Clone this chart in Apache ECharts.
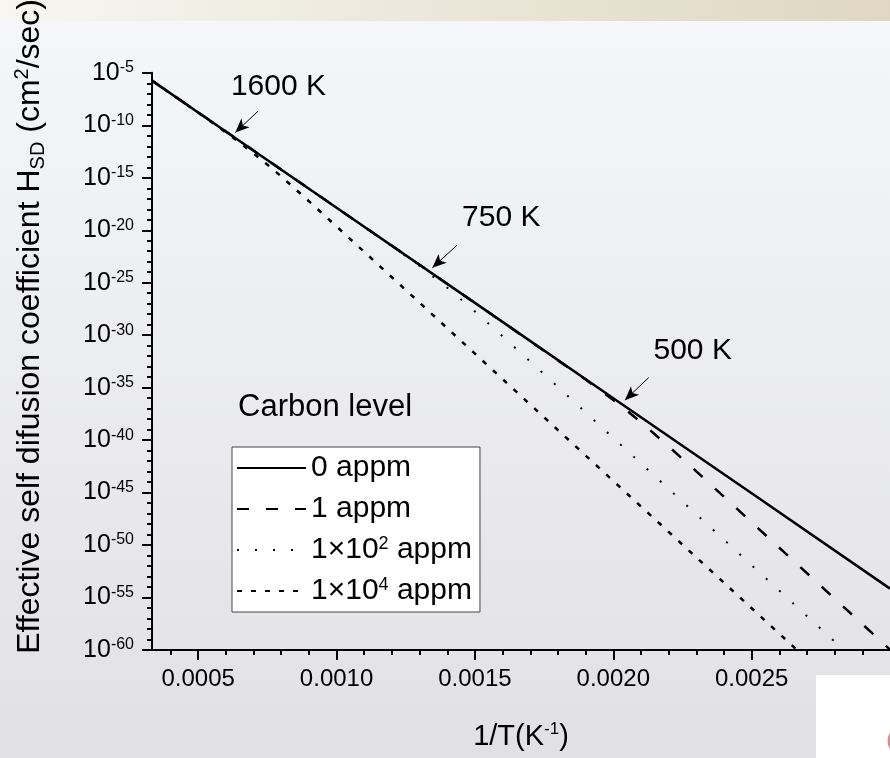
<!DOCTYPE html>
<html>
<head>
<meta charset="utf-8">
<script src="https://cdn.jsdelivr.net/npm/echarts@6/dist/echarts.min.js"></script>
<style>
  html, body { margin: 0; padding: 0; }
  #chart { width: 890px; height: 758px; }
</style>
</head>
<body>
<div id="chart"></div>
<script>
// x = 1/T (1/K), y = log10 of H_SD (cm2/sec)
var names = ['0 appm', '1 appm', '1x10^2 appm', '1x10^4 appm']

var x0 = [0.000333, 0.0005, 0.001, 0.0015, 0.002, 0.0025, 0.003]
var y0 = [-5.74, -8.77, -17.85, -26.92, -36.00, -45.07, -54.15]

var x1 = [0.000333, 0.0005, 0.001, 0.0015, 0.0019, 0.0020, 0.00205, 0.0021, 0.0022, 0.0023, 0.0024, 0.0025, 0.0028, 0.003]
var y1 = [-5.74, -8.77, -17.85, -26.92, -34.23, -36.17, -37.21, -38.29, -40.60, -42.97, -45.40, -47.83, -55.11, -59.96]

var x2 = [0.000333, 0.0005, 0.001, 0.0012, 0.0013, 0.0014, 0.0015, 0.0016, 0.0017, 0.0018, 0.0020, 0.0025, 0.002833]
var y2 = [-5.74, -8.77, -17.85, -21.51, -23.41, -25.48, -27.73, -30.10, -32.51, -34.93, -39.79, -51.92, -60]

var x3 = [0.000333, 0.0005, 0.0006, 0.00065, 0.0007, 0.00075, 0.0008, 0.0009, 0.001, 0.0012, 0.0015, 0.002, 0.0025, 0.002664]
var y3 = [-5.74, -8.79, -10.67, -11.65, -12.67, -13.75, -14.87, -17.23, -19.64, -24.48, -31.76, -43.89, -56.02, -60]

var xTicks = [0.0005, 0.0010, 0.0015, 0.0020, 0.0025]

// temperature notes: text spot, arrow tail, arrow tip (data coords)
var noteText = ['1600 K', '750 K', '500 K']
var noteAt = [[0.00079, -6.29], [0.001595, -18.80], [0.002287, -31.44]]
var arrowFrom = [[0.000716, -8.66], [0.001435, -21.43], [0.002128, -34.04]]
var arrowTo = [[0.000634, -10.69], [0.001346, -23.58], [0.002042, -36.19]]

var legendText = {
  '0 appm': '0 appm',
  '1 appm': '1 appm',
  '1x10^2 appm': '1\u00d710{s|2} appm',
  '1x10^4 appm': '1\u00d710{s|4} appm'
}

function pairs(xs, ys) {
  return xs.map(function (x, i) { return [x, ys[i]] })
}

var font = 'Arial, "Liberation Sans", sans-serif'
var chart = echarts.init(document.getElementById('chart'))

var styles = [
  { width: 2.5, type: 'solid' },
  { width: 2.5, type: [12, 17] },
  { width: 2, type: [2, 16] },
  { width: 2.5, type: [5, 9] }
]
var xs = [x0, x1, x2, x3], ys = [y0, y1, y2, y3]

var series = names.map(function (n, i) {
  return {
    name: n,
    type: 'line',
    symbol: 'none',
    data: pairs(xs[i], ys[i]),
    lineStyle: { color: '#000', width: styles[i].width, type: styles[i].type, cap: 'butt' },
    itemStyle: { color: '#000' },
    z: 5 - i
  }
})

series[0].markLine = {
  silent: true,
  symbol: ['none', 'arrow'],
  symbolSize: [9, 14],
  label: { show: false },
  lineStyle: { color: '#000', width: 1, type: 'solid' },
  data: noteText.map(function (t, i) {
    return [{ coord: arrowFrom[i] }, { coord: arrowTo[i] }]
  })
}
series[0].markPoint = {
  silent: true,
  symbol: 'circle',
  symbolSize: 0,
  label: {
    show: true, position: 'inside', color: '#000', fontSize: 30, fontFamily: font,
    formatter: function (p) { return p.name }
  },
  data: noteText.map(function (t, i) { return { name: t, coord: noteAt[i] } })
}

var option = {
  backgroundColor: {
    type: 'linear', x: 0, y: 0, x2: 0, y2: 1,
    colorStops: [{ offset: 0, color: '#f6f7fa' }, { offset: 1, color: '#e1e1e4' }]
  },
  animation: false,
  graphic: [
    {
      type: 'rect', z: -1, shape: { x: 0, y: 0, width: 890, height: 21 },
      style: {
        fill: {
          type: 'linear', x: 0, y: 0, x2: 1, y2: 0,
          colorStops: [{ offset: 0, color: '#f7f6f1' }, { offset: 1, color: '#dfd7c1' }]
        }
      }
    },
    { type: 'rect', z: -1, shape: { x: 816, y: 675, width: 74, height: 83 }, style: { fill: '#fff' } },
    {
      type: 'arc', z: -1, shape: { cx: 903, cy: 741, r: 14, startAngle: 2.4, endAngle: 3.9 },
      style: { stroke: '#b5424a', lineWidth: 3, fill: 'none', opacity: 0.6 }
    }
  ],
  title: {
    text: 'Carbon level', left: 238, top: 392, padding: 0,
    textStyle: { fontSize: 31, fontWeight: 'normal', color: '#000', fontFamily: font }
  },
  legend: {
    orient: 'vertical', left: 232, top: 447,
    padding: [6, 8, 6, 4], itemGap: 11, itemWidth: 69, itemHeight: 14,
    backgroundColor: '#fff', borderColor: '#444', borderWidth: 1, borderRadius: 0,
    selectedMode: false,
    itemStyle: { opacity: 0 },
    formatter: function (n) { return legendText[n] },
    textStyle: {
      fontSize: 30, color: '#000', fontFamily: font, lineHeight: 30,
      rich: { s: { fontSize: 18, verticalAlign: 'top', lineHeight: 16, fontFamily: font, color: '#000' } }
    }
  },
  grid: { left: 152, top: 62, right: -7, bottom: 100, containLabel: false },
  xAxis: {
    type: 'value', min: 0.000333, max: 0.003, splitNumber: 5,
    name: '1/T(K{s|-1})', nameLocation: 'middle', nameGap: 71,
    nameTextStyle: {
      fontSize: 29, color: '#000', fontFamily: font, lineHeight: 32,
      rich: { s: { fontSize: 17, verticalAlign: 'top', lineHeight: 14, fontFamily: font, color: '#000' } }
    },
    axisLine: { lineStyle: { color: '#000', width: 2 } },
    axisTick: { length: 10, lineStyle: { color: '#000', width: 2 }, customValues: xTicks },
    minorTick: { show: true, splitNumber: 5, length: 5, lineStyle: { color: '#000', width: 2 } },
    axisLabel: {
      customValues: xTicks, margin: 17, fontSize: 24, color: '#000', fontFamily: font,
      formatter: function (v) { return v.toFixed(4) }
    },
    splitLine: { show: false }
  },
  yAxis: {
    type: 'value', min: -60, max: -5, interval: 5,
    name: 'Effective self difusion coefficient H{sub|SD} (cm{sup|2}/sec)',
    nameLocation: 'middle', nameGap: 104, nameRotate: 90,
    nameTextStyle: {
      fontSize: 32, color: '#000', fontFamily: font, lineHeight: 36, padding: [0, 0, 0, 70],
      rich: {
        sub: { fontSize: 20, verticalAlign: 'bottom', lineHeight: 22, fontFamily: font, color: '#000' },
        sup: { fontSize: 20, verticalAlign: 'top', lineHeight: 20, fontFamily: font, color: '#000' }
      }
    },
    axisLine: { lineStyle: { color: '#000', width: 2 } },
    axisTick: { length: 10, lineStyle: { color: '#000', width: 2 } },
    minorTick: { show: true, splitNumber: 5, length: 5, lineStyle: { color: '#000', width: 2 } },
    axisLabel: {
      margin: 18, color: '#000', fontFamily: font,
      formatter: function (v) { return '{b|10}{s|' + v + '}' },
      rich: {
        b: { fontSize: 25, lineHeight: 26, fontFamily: font, color: '#000' },
        s: { fontSize: 16, verticalAlign: 'top', lineHeight: 14, fontFamily: font, color: '#000' }
      }
    },
    splitLine: { show: false }
  },
  series: series
}

chart.setOption(option)
</script>
</body>
</html>
